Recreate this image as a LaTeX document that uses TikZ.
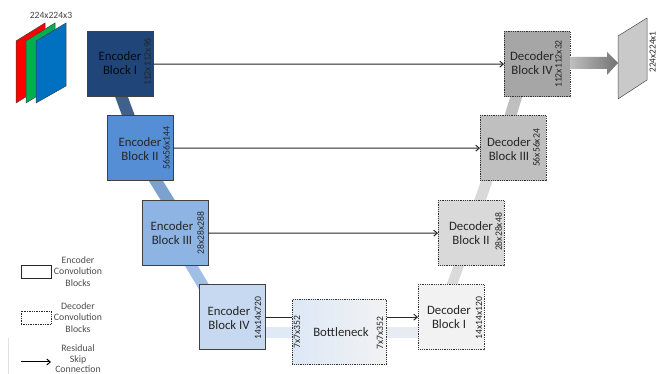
\documentclass[tikz,border=0pt]{standalone}
\usepackage{fontspec}
\setmainfont{Carlito}
\usetikzlibrary{backgrounds,arrows.meta,calc}
\definecolor{eOne}{HTML}{1F4579}
\definecolor{eTwo}{HTML}{558ED5}
\definecolor{eThree}{HTML}{8EB4E3}
\definecolor{eFour}{HTML}{C6D9F1}
\definecolor{dFour}{HTML}{A6A6A6}
\definecolor{dThree}{HTML}{BFBFBF}
\definecolor{dTwo}{HTML}{D9D9D9}
\definecolor{dOne}{HTML}{F2F2F2}
\definecolor{txt}{HTML}{262626}
\tikzset{
  x=1pt,y=-1pt,
  block/.style={minimum width=65.5pt,minimum height=65.5pt,inner sep=0pt,anchor=north west},
  encblock/.style={block,draw=black!75,line width=0.9pt},
  decblock/.style={block,draw=black!80,line width=0.8pt,densely dotted},
  blocktext/.style={font=\fontsize{12.8}{14.6}\selectfont,align=center,text=txt},
  dimtext/.style={font=\fontsize{9.7}{11}\selectfont,rotate=90,text=txt,inner sep=0pt},
  legendtext/.style={font=\fontsize{9.8}{11.4}\selectfont,align=center,text=black!70,inner sep=0pt},
  ribbon/.style={line cap=butt},
  skiparrow/.style={draw=black!85,line width=1pt,-{Straight Barb[length=3.5pt,width=6pt]}},
  sheet/.style={draw=black!75,line width=0.5pt}
}
\begin{document}
\begin{tikzpicture}
\useasboundingbox (0,0) rectangle (657,374);
% blocks
\node[encblock,fill=eOne] (E1) at (87,31) {};
\node[encblock,fill=eTwo] (E2) at (107,115) {};
\node[encblock,fill=eThree] (E3) at (142,200) {};
\node[encblock,fill=eFour] (E4) at (199,284) {};
\node[decblock,minimum width=94pt,left color=eFour!60!white,right color=dOne] (B) at (292,299) {};
\node[decblock,fill=dOne] (D1) at (418,284) {};
\node[decblock,fill=dTwo] (D2) at (438,200) {};
\node[decblock,fill=dThree] (D3) at (480,115) {};
\node[decblock,fill=dFour] (D4) at (504,31) {};
% ribbons
\begin{scope}[on background layer]
\draw[ribbon,draw=eOne!85!white,line width=12pt,shorten <=-4pt,shorten >=-4pt] ([xshift=1.5pt]E1.south) -- ([xshift=-12pt]E2.north);
\draw[ribbon,draw=eTwo!70!eOne!70!white,line width=12pt,shorten <=-4pt,shorten >=-4pt] ([xshift=16pt]E2.south) -- ([xshift=-7.5pt]E3.north);
\draw[ribbon,draw=eThree!85!white,line width=11pt,shorten <=-4pt,shorten >=-14pt] ([xshift=16.5pt]E3.south) -- ([xshift=-30pt]E4.north);
\draw[ribbon,draw=eFour!55!white,line width=11pt] (E4.east |- B.west) -- (B.west);
\draw[ribbon,draw=eFour!25!dOne,line width=11pt] (B.east) -- (B.east -| D1.west);
\draw[ribbon,draw=dOne!90!black,line width=10pt,shorten <=-4pt,shorten >=-4pt] ([xshift=1pt]D1.north) -- ([xshift=-12.5pt]D2.south);
\draw[ribbon,draw=dTwo,line width=11pt,shorten <=-4pt,shorten >=-4pt] ([xshift=9pt]D2.north) -- ([xshift=-26.5pt]D3.south);
\draw[ribbon,draw=dThree,line width=11.5pt,shorten <=-4pt,shorten >=-4pt] ([xshift=-2.5pt]D3.north) -- ([xshift=-21pt]D4.south);
\end{scope}
% block labels
\node[blocktext,text=black!85!eOne] at (120,63) {Encoder\\Block I};
\node[blocktext] at (140,149) {Encoder\\Block II};
\node[blocktext] at (172,233) {Encoder\\Block III};
\node[blocktext] at (229,318) {Encoder\\Block IV};
\node[blocktext] at (341,332) {Bottleneck};
\node[blocktext] at (449,317) {Decoder\\Block I};
\node[blocktext] at (471,233) {Decoder\\Block II};
\node[blocktext] at (509,149) {Decoder\\Block III};
\node[blocktext] at (532,63) {Decoder\\Block IV};
% dimension labels
\node[dimtext] at (147.5,62) {112x112x96};
\node[dimtext] at (166.5,148) {56x56x144};
\node[dimtext] at (200.5,233) {28x28x288};
\node[dimtext] at (258,318) {14x14x720};
\node[dimtext] at (297,332) {7x7x352};
\node[dimtext] at (380,333) {7x7x352};
\node[dimtext] at (479,318) {14x14x120};
\node[dimtext] at (498.5,232) {28x28x48};
\node[dimtext] at (536.5,148) {56x56x24};
\node[dimtext] at (558.5,64) {112x112x32};
% skip connections
\draw[skiparrow] (E1.east) -- (D4.west);
\draw[skiparrow] (E2.east) -- (D3.west);
\draw[skiparrow] (E3.east) -- (D2.west);
\draw[draw=black!85,line width=1pt] (E4.east) -- (E4.east -| B.west);
\draw[skiparrow] (B.east |- D1.west) -- (D1.west);
% input sheets
\draw[sheet,fill=red] (16,41) -- (45,23) -- (45,85) -- (16,103) -- cycle;
\draw[sheet,fill={rgb,255:red,0;green,176;blue,80}] (26,41) -- (55,23) -- (55,85) -- (26,103) -- cycle;
\draw[sheet,fill={rgb,255:red,0;green,112;blue,192}] (36,41) -- (66,23) -- (66,86) -- (36,103) -- cycle;
\node[font=\fontsize{9.6}{11}\selectfont,text=black!75,inner sep=0pt] (inlabel) at (51,15.5) {224x224x3};
% output
\shade[left color=dThree,right color=black!55] (570,57) -- (607,57) -- (607,52) -- (618,63) -- (607,75) -- (607,69) -- (570,69) -- cycle;
\draw[sheet,draw=black!70,fill=black!21] (618,36) -- (647,18) -- (647,80) -- (618,99) -- cycle;
\node[font=\fontsize{9.3}{10}\selectfont,rotate=90,text=txt,inner sep=0pt] (outlabel) at (652.5,52) {224x224x1};
% legend
\node[draw=black!85,line width=0.8pt,minimum width=30pt,minimum height=13pt,inner sep=0pt] (LE) at (36,271.5) {};
\node[legendtext] (LEt) at (78,271.5) {Encoder\\Convolution\\Blocks};
\node[draw=black!85,line width=0.7pt,densely dotted,minimum width=30pt,minimum height=13pt,inner sep=0pt] (LD) at (36,317.5) {};
\node[legendtext] (LDt) at (78,317.5) {Decoder\\Convolution\\Blocks};
\coordinate (LAa) at (21,362);
\coordinate (LAb) at (51,362);
\draw[skiparrow,draw=black] (LAa) -- (LAb);
\node[legendtext,font=\fontsize{9.8}{10.7}\selectfont,anchor=south] (LAt) at (78,373) {Residual\\Skip\\Connection};
\coordinate (Va) at (8,338);
\coordinate (Vb) at (8,374);
\draw[black!12,line width=0.5pt] (Va) -- (Vb);
\end{tikzpicture}
\end{document}
